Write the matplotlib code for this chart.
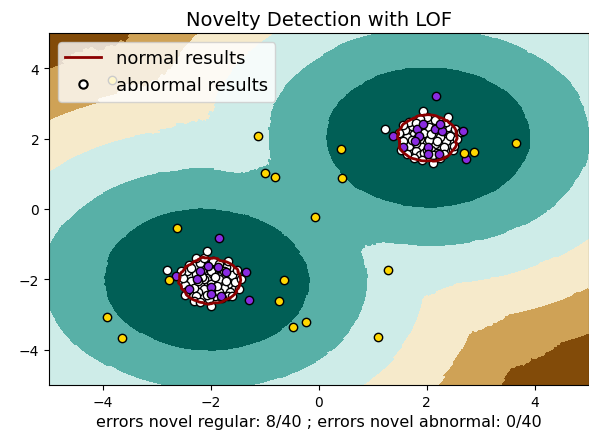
import numpy as np
import matplotlib
matplotlib.use("Agg")
import matplotlib.pyplot as plt

# training observations (two blobs)
train_upper = [
    (2.04, 2.08), (1.88, 1.96), (2.16, 1.84), (1.76, 2.12), (2.28, 2.20), (1.96, 2.36), (2.08, 1.68), (1.68, 1.80),
    (2.36, 1.92), (1.84, 2.28), (2.00, 1.88), (2.12, 2.24), (1.92, 1.76), (2.24, 2.04), (1.80, 1.64), (2.40, 2.32),
    (1.64, 2.04), (2.20, 1.60), (1.96, 2.16), (2.32, 1.76), (1.72, 2.36), (2.08, 2.44), (1.88, 1.52), (2.44, 2.08),
    (1.56, 1.92), (2.04, 1.96), (2.16, 2.52), (1.76, 1.44), (2.48, 1.68), (1.60, 2.24), (1.96, 1.60), (2.28, 2.40),
    (1.84, 2.04), (2.12, 1.52), (2.00, 2.60), (1.52, 1.68), (2.36, 2.48), (1.68, 2.48), (2.56, 2.00), (1.92, 1.40),
    (2.20, 1.92), (1.80, 1.88), (2.04, 2.32), (2.24, 1.44), (1.64, 1.56), (2.52, 2.28), (1.88, 2.56), (2.32, 1.56),
    (1.48, 2.16), (2.08, 2.12), (1.22, 2.27), (1.94, 2.79), (2.50, 1.80), (2.12, 1.32), (1.72, 1.96), (2.40, 2.60),
    (1.56, 2.40), (2.00, 1.68), (2.64, 2.20), (1.80, 2.44),
]
train_lower = [
    (-2.08, -1.96), (-1.92, -2.04), (-2.20, -2.16), (-1.80, -1.88), (-2.28, -1.84), (-2.00, -2.32), (-1.88, -1.68),
    (-2.16, -1.72), (-1.68, -2.12), (-2.36, -2.04), (-1.96, -1.84), (-2.12, -2.28), (-1.76, -2.24), (-2.24, -2.36),
    (-1.84, -2.00), (-2.44, -1.76), (-2.04, -1.60), (-1.60, -1.88), (-2.32, -2.24), (-1.92, -2.48), (-2.12, -2.00),
    (-1.72, -1.64), (-2.48, -2.16), (-2.00, -2.12), (-1.64, -2.36), (-2.20, -1.52), (-1.84, -2.36), (-2.40, -1.60),
    (-1.56, -2.08), (-2.04, -2.56), (-2.28, -2.48), (-1.76, -1.76), (-2.16, -1.92), (-1.96, -1.48), (-2.52, -1.96),
    (-1.68, -2.48), (-2.08, -2.44), (-2.36, -1.68), (-1.52, -1.72), (-1.88, -2.20), (-2.24, -2.04), (-2.00, -1.76),
    (-1.80, -2.52), (-2.44, -2.32), (-1.72, -2.04), (-2.12, -1.40), (-1.48, -2.28), (-2.32, -2.60), (-1.92, -1.92),
    (-2.56, -1.76), (-2.81, -1.73), (-2.08, -1.19), (-1.60, -2.48), (-2.20, -2.64), (-1.84, -1.56), (-2.48, -2.44),
    (-1.44, -2.00), (-2.00, -2.76), (-2.28, -1.40), (-1.68, -1.48),
]

# new regular observations
test_regular = [
    (2.17, 3.20), (2.67, 2.21), (2.73, 1.42), (1.82, 2.27), (1.85, 2.08), (1.79, 1.94), (2.16, 2.27), (2.28, 2.21),
    (2.03, 1.75), (2.03, 1.56), (2.22, 1.56), (1.57, 1.75), (1.38, 2.08), (1.94, 2.41), (2.25, 2.41),
    (-1.84, -0.82), (-1.35, -1.78), (-1.30, -2.58), (-2.21, -1.75), (-1.87, -1.66), (-1.72, -1.80), (-2.25, -1.99),
    (-2.00, -2.22), (-2.00, -2.41), (-1.81, -2.46), (-2.40, -2.27), (-2.06, -1.61), (-2.65, -1.89),
]

# new abnormal observations
test_abnormal = [
    (-1.13, 2.07), (-0.99, 1.02), (-0.82, 0.92), (0.41, 1.70), (0.44, 0.87), (-0.07, -0.24), (-2.62, -0.54),
    (-2.77, -2.02), (-3.92, -3.08), (-3.64, -3.67), (-0.64, -2.02), (-0.73, -2.62), (-0.48, -3.34), (-0.23, -3.22),
    (1.28, -1.73), (1.10, -3.63), (2.70, 1.58), (2.87, 1.61), (3.66, 1.88), (-3.83, 3.66),
]

n_error_test = 8
n_error_outliers = 0
n_test = 40
n_neighbors = 20
contamination = 0.2

X_train = np.array(train_upper + train_lower)
X_test = np.array(test_regular)
X_outliers = np.array(test_abnormal)


def knn(A, B, k):
    d = np.sqrt(((A[:, None, :] - B[None, :, :]) ** 2).sum(-1))
    idx = np.argsort(d, axis=1)[:, :k]
    return np.take_along_axis(d, idx, axis=1), idx


# local outlier factor fitted on the training set (novelty mode)
d_tr, idx_tr = knn(X_train, X_train, n_neighbors + 1)
d_tr, idx_tr = d_tr[:, 1:], idx_tr[:, 1:]
k_dist = d_tr[:, -1]
lrd = 1.0 / (np.maximum(d_tr, k_dist[idx_tr]).mean(axis=1) + 1e-10)
nof = -(lrd[idx_tr] / lrd[:, None]).mean(axis=1)
offset = np.percentile(nof, 100 * contamination)


def decision_function(P):
    out = []
    for chunk in np.array_split(P, max(1, len(P) // 10000)):
        d, idx = knn(chunk, X_train, n_neighbors)
        lrd_p = 1.0 / (np.maximum(d, k_dist[idx]).mean(axis=1) + 1e-10)
        out.append(-(lrd[idx] / lrd_p[:, None]).mean(axis=1) - offset)
    return np.concatenate(out)


xx, yy = np.meshgrid(np.linspace(-5, 5, 500), np.linspace(-5, 5, 500))
Z = decision_function(np.c_[xx.ravel(), yy.ravel()]).reshape(xx.shape)

fig = plt.figure(figsize=(5.89, 4.39), dpi=100)
ax = fig.add_axes([49 / 589, 53 / 439, 539.5 / 589, 352 / 439])
ax.set_title("Novelty Detection with LOF", fontsize=14)
ax.contourf(xx, yy, Z, levels=np.linspace(Z.min(), 0, 7), cmap=plt.cm.BrBG)

s = 36
b1 = ax.scatter(X_train[:, 0], X_train[:, 1], c="white", s=s, edgecolors="k")
a = ax.contour(xx, yy, Z, levels=[0], linewidths=2, colors="darkred")
b2 = ax.scatter(X_test[:, 0], X_test[:, 1], c="blueviolet", s=s, edgecolors="k")
c = ax.scatter(X_outliers[:, 0], X_outliers[:, 1], c="gold", s=s, edgecolors="k")

ax.set_xlim((-5, 5))
ax.set_ylim((-5, 5))
ax.set_xticks([-4, -2, 0, 2, 4])
ax.set_yticks([-4, -2, 0, 2, 4])
ax.tick_params(labelsize=10)

line = plt.Line2D([], [], color="darkred", lw=2)
dot = plt.Line2D([], [], ls="none", marker="o", markersize=6, mfc="white", mec="k", mew=1.5)
ax.legend([line, dot], ["normal results", "abnormal results"], loc="upper left", fontsize=13)
ax.set_xlabel(
    "errors novel regular: %d/%d ; errors novel abnormal: %d/%d"
    % (n_error_test, n_test, n_error_outliers, n_test),
    fontsize=11.5,
)

fig.savefig("out.png", dpi=100)
